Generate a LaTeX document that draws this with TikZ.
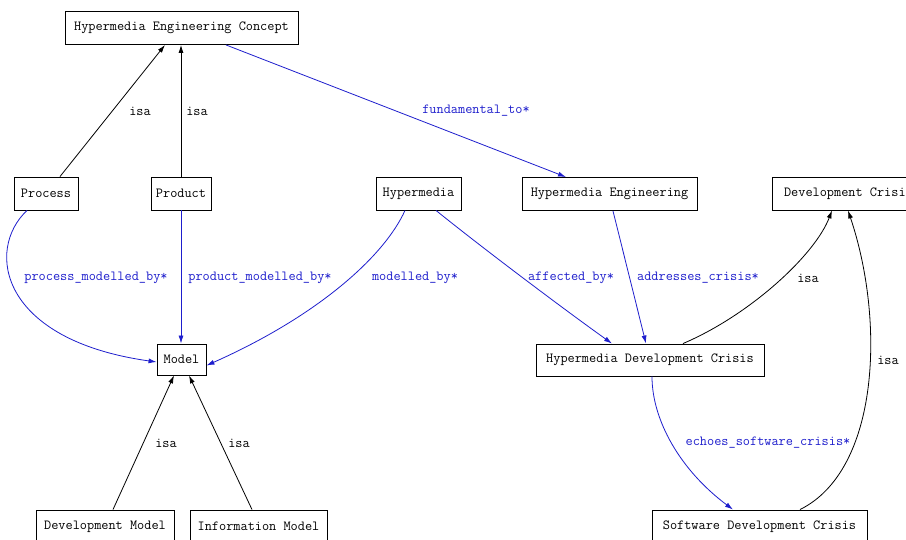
\documentclass[tikz,border=0pt]{standalone}
\usepackage{fontspec}
\setmonofont{Latin Modern Mono}
\usetikzlibrary{arrows.meta}
\definecolor{edgeblue}{RGB}{30,30,205}
\tikzset{
  box/.style={draw=black, line width=0.9pt, fill=white, inner sep=0pt, minimum height=33pt,
    font=\ttfamily\fontsize{13.9}{16}\selectfont, text=black},
  lab/.style={font=\ttfamily\fontsize{13.9}{16}\selectfont, inner sep=0pt, text=black},
  blab/.style={lab, text=edgeblue},
  isaedge/.style={draw=black, line width=0.8pt, -{Latex[length=8pt,width=5pt]}},
  reledge/.style={draw=edgeblue, line width=0.8pt, -{Latex[length=8pt,width=5pt]}}
}
\begin{document}
\begin{tikzpicture}[x=1pt,y=-1pt]
\useasboundingbox (0,0) rectangle (906,540);
\clip (0,0) rectangle (906,540);
\fill[white] (0,0) rectangle (906,540);

% nodes
\node[box, minimum width=233pt] (hec) at (181.5,28) {Hypermedia Engineering Concept};
\node[box, minimum width=64pt] (proc) at (46,193.5) {Process};
\node[box, minimum width=60pt] (prod) at (181,193.5) {Product};
\node[box, minimum width=85pt] (hm) at (418.5,193.5) {Hypermedia};
\node[box, minimum width=175pt] (he) at (609.5,194) {Hypermedia Engineering};
\node[box, minimum width=146pt, anchor=west] (dc) at (772,193.5) {\hspace*{6pt}Development Crisis\hfill};
\node[box, minimum width=49pt, minimum height=31pt] (model) at (181.5,359.5) {Model};
\node[box, minimum width=228pt, minimum height=32pt] (hdc) at (650,360) {Hypermedia Development Crisis};
\node[box, minimum width=138pt] (dm) at (105,526.5) {Development Model};
\node[box, minimum width=137pt] (im) at (258.5,526.5) {Information Model};
\node[box, minimum width=215pt] (sdc) at (759.5,526.5) {Software Development Crisis};

% isa edges
\draw[isaedge] ([xshift=14pt]proc.north) -- ([xshift=-16.5pt]hec.south);
\draw[isaedge] (prod.north) -- ([xshift=-0.5pt]hec.south);
\draw[isaedge] ([xshift=8pt]dm.north) -- ([xshift=-7.5pt]model.south);
\draw[isaedge] ([xshift=-6.5pt]im.north) -- ([xshift=7.5pt]model.south);
\draw[isaedge] ([xshift=33pt]hdc.north) .. controls (750,315) and (815,255) .. ([xshift=60pt]dc.south west);
\draw[isaedge] ([xshift=40.5pt]sdc.north) .. controls (880,470) and (885,320) .. ([xshift=76pt]dc.south west);

% relation edges
\draw[reledge] ([xshift=44.5pt]hec.south) -- ([xshift=-43.5pt]he.north);
\draw[reledge] ([xshift=-19pt]proc.south) .. controls (-15,250) and (0,340) .. ([yshift=-2.5pt]model.west);
\draw[reledge] (prod.south) -- ([xshift=-0.5pt]model.north);
\draw[reledge] ([xshift=-13.5pt]hm.south) .. controls (385,255) and (320,315) .. ([yshift=-6pt]model.east);
\draw[reledge] ([xshift=17.5pt]hm.south) .. controls (485,250) and (565,310) .. ([xshift=-38pt]hdc.north);
\draw[reledge] ([xshift=3.5pt]he.south) -- ([xshift=-4pt]hdc.north);
\draw[reledge] ([xshift=2pt]hdc.south) .. controls (652,420) and (680,470) .. ([xshift=-26.5pt]sdc.north);

% labels
\node[lab] (l1) at (140,111) {isa};
\node[lab] (l2) at (197,111) {isa};
\node[blab] (l3) at (476,111) {fundamental\_to*};
\node[blab] (l4) at (96,278) {process\_modelled\_by*};
\node[blab] (l5) at (260,278) {product\_modelled\_by*};
\node[blab] (l6) at (415,278) {modelled\_by*};
\node[blab] (l7) at (571,278) {affected\_by*};
\node[blab] (l8) at (698,278) {addresses\_crisis*};
\node[lab] (l9) at (808,278) {isa};
\node[lab] (l10) at (888,360) {isa};
\node[blab] (l11) at (768,443) {echoes\_software\_crisis*};
\node[lab] (l12) at (166,443) {isa};
\node[lab] (l13) at (239,443) {isa};
\end{tikzpicture}
\end{document}
